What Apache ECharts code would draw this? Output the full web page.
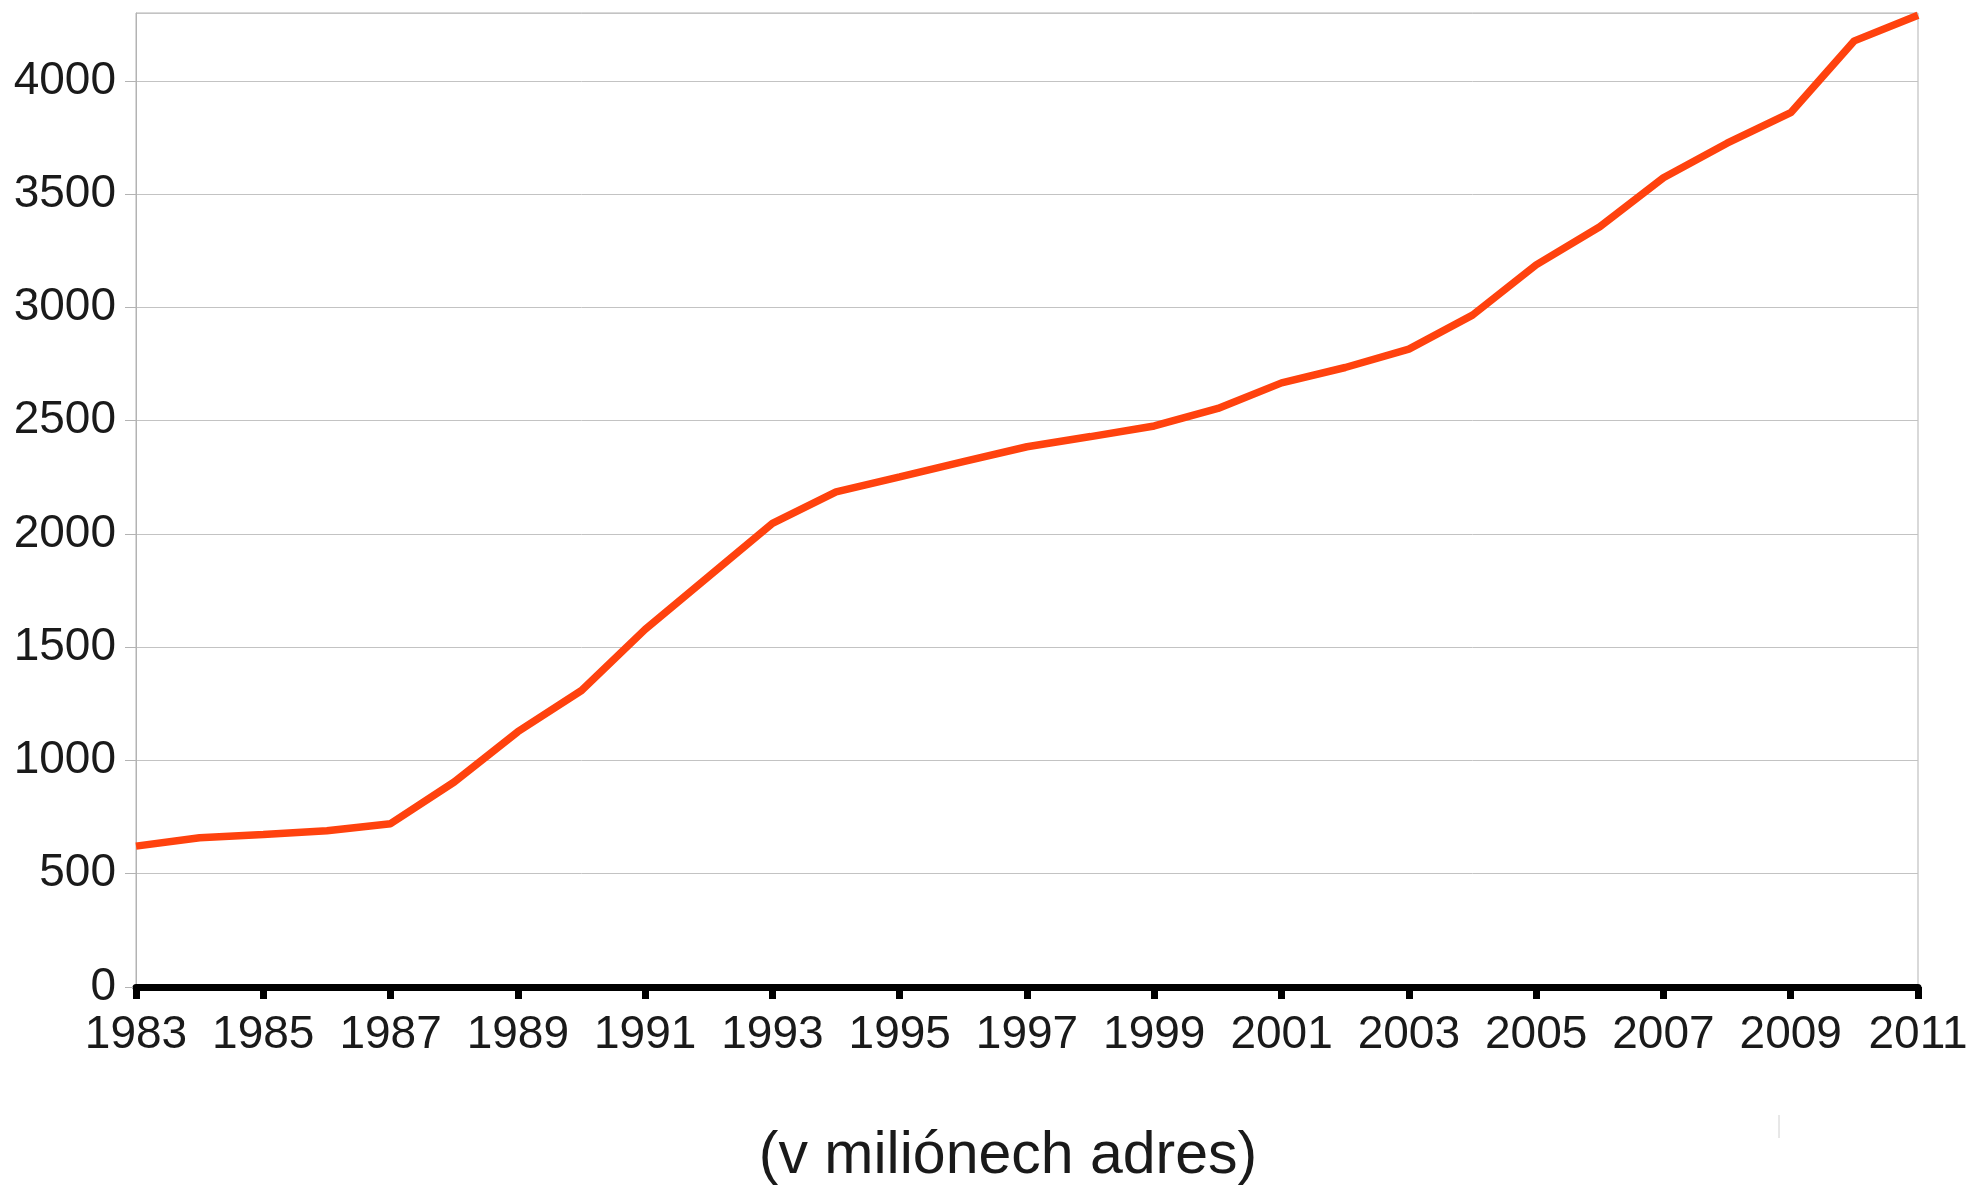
<!DOCTYPE html>
<html>
<head>
<meta charset="utf-8">
<script src="https://cdn.jsdelivr.net/npm/echarts@6/dist/echarts.min.js"></script>
<style>
html,body{margin:0;padding:0;background:#fff;}
#container{width:1971px;height:1189px;}
</style>
</head>
<body>
<div id="container"></div>
<script>
// roky 1983-2011
var years = ['1983','1984','1985','1986','1987','1988','1989','1990','1991','1992',
	'1993','1994','1995','1996','1997','1998','1999','2000','2001','2002',
	'2003','2004','2005','2006','2007','2008','2009','2010','2011'];
// hodnoty v milionech adres
var values = [622, 659, 673, 690, 721, 905, 1127, 1309, 1579, 1813,
	2047, 2186, 2252, 2319, 2385, 2430, 2477, 2554, 2667, 2735,
	2816, 2966, 3188, 3356, 3573, 3725, 3860, 4177, 4290];
var yMax = 4300;
var yStep = 500;
var caption = '(v miliónech adres)';

var dom = document.getElementById("container");
var myChart = echarts.init(dom);
var font = 'Liberation Sans, Arial, sans-serif';

var option = {
	backgroundColor: '#fff',
	animation: false,
	title: {
		text: caption,
		left: 1003,
		top: 1122,
		textAlign: 'center',
		textStyle: {
			fontFamily: font,
			fontSize: 59,
			fontWeight: 'normal',
			color: '#1a1a1a'
		}
	},
	grid: {
		left: 136,
		right: 53,
		top: 13,
		bottom: 202,
		show: true,
		borderColor: '#b3b3b3',
		borderWidth: 1
	},
	xAxis: {
		type: 'category',
		data: years,
		boundaryGap: false,
		axisLine: {
			lineStyle: { color: '#000', width: 7 }
		},
		axisTick: {
			interval: 1,
			length: 12,
			lineStyle: { color: '#000', width: 7 }
		},
		axisLabel: {
			interval: 1,
			margin: 25,
			fontFamily: font,
			fontSize: 46,
			color: '#1a1a1a'
		},
		splitLine: { show: false }
	},
	yAxis: {
		type: 'value',
		min: 0,
		max: yMax,
		interval: yStep,
		axisLine: {
			show: true,
			lineStyle: { color: '#b3b3b3', width: 1 }
		},
		axisTick: {
			show: true,
			length: 11,
			lineStyle: { color: '#b3b3b3', width: 1 }
		},
		axisLabel: {
			margin: 20,
			showMaxLabel: false,
			fontFamily: font,
			fontSize: 46,
			color: '#1a1a1a',
			formatter: function (v) { return String(v); }
		},
		splitLine: {
			lineStyle: { color: '#c3c3c3', width: 1 }
		}
	},
	graphic: [{
		type: 'line',
		shape: { x1: 1779, y1: 1115, x2: 1779, y2: 1138 },
		style: { stroke: '#d0d0d0', lineWidth: 1 }
	}],
	series: [{
		type: 'line',
		data: values,
		symbol: 'none',
		lineStyle: { color: '#ff420e', width: 7.5 },
		itemStyle: { color: '#ff420e' }
	}]
};
myChart.setOption(option);
</script>
</body>
</html>
